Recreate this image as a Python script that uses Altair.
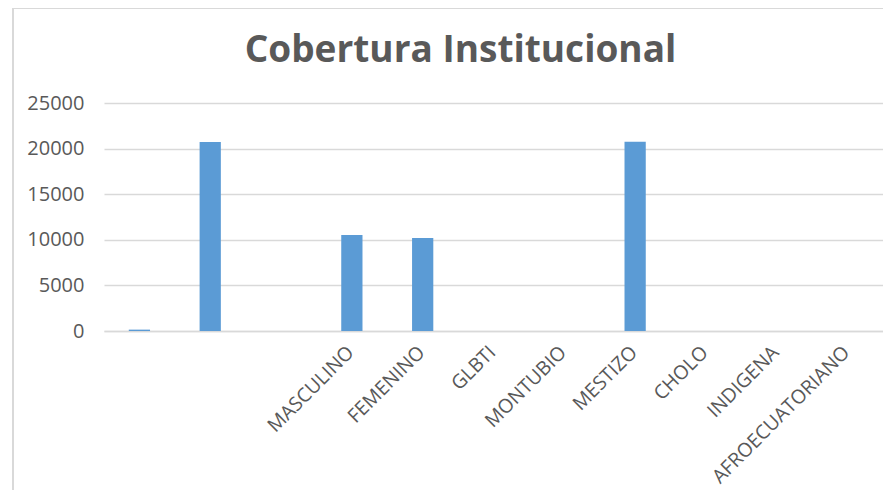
import altair as alt
import pandas as pd

# Categories (the first three carry no label in the original chart)
categories = [" ", "  ", "   ", "MASCULINO", "FEMENINO", "GLBTI", "MONTUBIO",
              "MESTIZO", "CHOLO", "INDIGENA", "AFROECUATORIANO"]
values = [150, 20720, 0, 10520, 10200, 0, 0, 20750, 0, 0, 0]
y_ticks = [0, 5000, 10000, 15000, 20000, 25000]

df = pd.DataFrame({"categoria": categories, "valor": values})

FONT = "Open Sans"
GREY = "#595959"
GRID = "#D9D9D9"

bars = alt.Chart(df).mark_bar(color="#5B9BD5").encode(
    x=alt.X(
        "categoria:N",
        sort=categories,
        scale=alt.Scale(paddingInner=0.7, paddingOuter=0.35),
        axis=alt.Axis(
            title=None,
            labelAngle=-45,
            labelAlign="right",
            labelBaseline="middle",
            labelPadding=18,
            labelOffset=-1,
            labelFontSize=19.5,
            labelFont=FONT,
            labelColor=GREY,
            labelLimit=400,
            ticks=False,
            domainColor=GRID,
            domainWidth=1.5,
            grid=False,
            labelOverlap=False,
        ),
    ),
    y=alt.Y(
        "valor:Q",
        scale=alt.Scale(domain=[0, 25000], nice=False),
        axis=alt.Axis(
            title=None,
            values=y_ticks,
            format="d",
            labelFontSize=20,
            labelFont=FONT,
            labelColor=GREY,
            labelPadding=20,
            ticks=False,
            domain=False,
            gridColor=GRID,
            gridWidth=1.5,
        ),
    ),
)

# Chart frame (light border at the left and top of the original picture)
frame_left = alt.Chart(df).mark_rule(color=GRID, strokeWidth=2).encode(
    x=alt.value(-91), y=alt.value(-95), y2=alt.value(390)
)
frame_top = alt.Chart(df).mark_rule(color=GRID, strokeWidth=2).encode(
    x=alt.value(-91), x2=alt.value(800), y=alt.value(-95)
)

chart = alt.layer(frame_left, frame_top, bars).properties(
    width=779,
    height=228,
    autosize=alt.AutoSizeParams(type="none"),
    padding={"left": 96, "top": 95, "right": 0, "bottom": 159},
    title=alt.TitleParams(
        "Cobertura Institucional",
        font=FONT,
        fontSize=37,
        fontWeight="bold",
        color=GREY,
        anchor="middle",
        dx=-33,
        dy=92,
        baseline="alphabetic",
        offset=0,
    ),
).configure_view(stroke=None)

chart.save("out.html", embed_options={"renderer": "svg", "actions": False})
